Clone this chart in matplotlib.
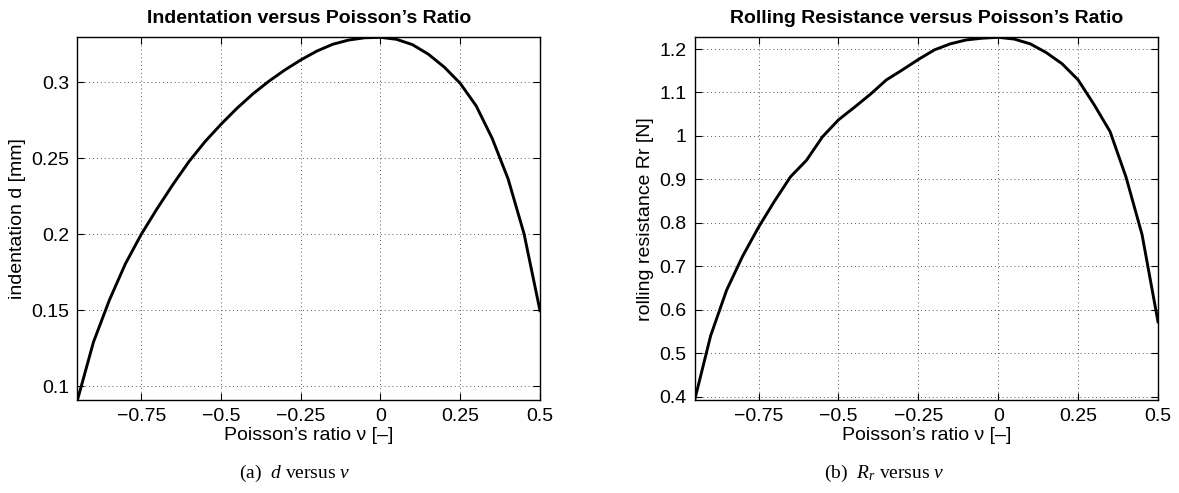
import matplotlib
matplotlib.use("Agg")
import matplotlib.pyplot as plt
from matplotlib.ticker import FuncFormatter

# Poisson's ratio samples (step 0.05)
nu = [-0.95, -0.90, -0.85, -0.80, -0.75, -0.70, -0.65, -0.60, -0.55, -0.50,
      -0.45, -0.40, -0.35, -0.30, -0.25, -0.20, -0.15, -0.10, -0.05, 0.00,
      0.05, 0.10, 0.15, 0.20, 0.25, 0.30, 0.35, 0.40, 0.45, 0.50]

# indentation d [mm]
indentation = [0.0910, 0.1290, 0.1567, 0.1805, 0.2000, 0.2170, 0.2330, 0.2480, 0.2610, 0.2724,
               0.2829, 0.2924, 0.3007, 0.3081, 0.3147, 0.3205, 0.3250, 0.3278, 0.3293, 0.3296,
               0.3283, 0.3248, 0.3185, 0.3100, 0.2993, 0.2845, 0.2632, 0.2365, 0.2004, 0.1498]

# rolling resistance Rr [N]
rolling = [0.392, 0.540, 0.645, 0.723, 0.790, 0.850, 0.906, 0.944, 0.998, 1.037,
           1.066, 1.096, 1.129, 1.152, 1.176, 1.198, 1.212, 1.221, 1.225, 1.227,
           1.223, 1.212, 1.192, 1.166, 1.129, 1.072, 1.010, 0.905, 0.773, 0.572]

x_ticks = [-0.75, -0.5, -0.25, 0, 0.25, 0.5]
d_ticks = [0.1, 0.15, 0.2, 0.25, 0.3]
rr_ticks = [0.4, 0.5, 0.6, 0.7, 0.8, 0.9, 1.0, 1.1, 1.2]

plt.rcParams['font.family'] = ['Liberation Sans', 'DejaVu Sans']
plt.rcParams['mathtext.fontset'] = 'custom'
plt.rcParams['mathtext.rm'] = 'Liberation Serif'
plt.rcParams['mathtext.it'] = 'Liberation Serif:italic'

FS = 14


def fmt(v, pos):
    # MATLAB-style labels: 0.3, 1, -0.75 with a real minus sign
    s = '%g' % v
    return s.replace('-', '\u2212')


def style_axes(ax, yticks):
    ax.set_xlim(-0.95, 0.5)
    ax.set_xticks(x_ticks)
    ax.set_yticks(yticks)
    ax.xaxis.set_major_formatter(FuncFormatter(fmt))
    ax.yaxis.set_major_formatter(FuncFormatter(fmt))
    ax.tick_params(direction='in', length=5, width=0.8, labelsize=FS,
                   top=True, right=True, pad=6)
    ax.grid(True, color='0.35', linestyle=(0, (1, 3)), linewidth=0.7)
    for sp in ax.spines.values():
        sp.set_linewidth(1.0)


fig = plt.figure(figsize=(11.79, 4.93), dpi=100)
ax1 = fig.add_axes([0.0657, 0.1886, 0.3923, 0.7357])
ax2 = fig.add_axes([0.5892, 0.1886, 0.3930, 0.7357])

# (a) indentation
ax1.plot(nu, indentation, color='black', linewidth=2.1)
style_axes(ax1, d_ticks)
ax1.set_ylim(min(indentation), max(indentation))
ax1.set_title('Indentation versus Poisson\u2019s Ratio', fontsize=FS,
              fontweight='bold', pad=10)
ax1.set_xlabel('Poisson\u2019s ratio \u03bd [\u2013]', fontsize=FS, labelpad=1.3)
ax1.set_ylabel('indentation d [mm]', fontsize=FS, labelpad=4)

# (b) rolling resistance
ax2.plot(nu, rolling, color='black', linewidth=2.1)
style_axes(ax2, rr_ticks)
ax2.set_ylim(min(rolling), max(rolling))
ax2.set_title('Rolling Resistance versus Poisson\u2019s Ratio', fontsize=FS,
              fontweight='bold', pad=10)
ax2.set_xlabel('Poisson\u2019s ratio \u03bd [\u2013]', fontsize=FS, labelpad=1.3)
ax2.set_ylabel('rolling resistance Rr [N]', fontsize=FS, labelpad=4)

# sub-figure captions
fig.text(0.25, 0.04, r'(a)  $d$ versus $\nu$', ha='center', va='center',
         fontsize=FS, family='Liberation Serif')
fig.text(0.75, 0.04, r'(b)  $R_r$ versus $\nu$', ha='center', va='center',
         fontsize=FS, family='Liberation Serif')

fig.savefig('out.png', dpi=100)
